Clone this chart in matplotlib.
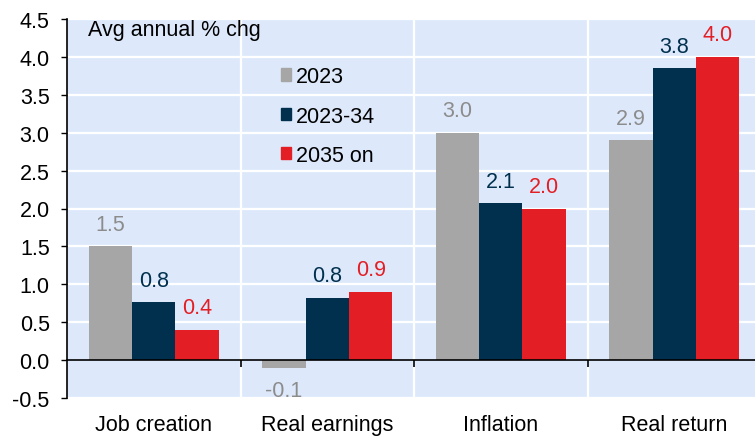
import matplotlib.pyplot as plt
import numpy as np
from matplotlib.patches import Patch

plt.rcParams['font.family'] = ['Liberation Sans', 'DejaVu Sans']

categories = ['Job creation', 'Real earnings', 'Inflation', 'Real return']
series_names = ['2023', '2023-34', '2035 on']
values_2023 = [1.5, -0.1, 3.0, 2.9]
values_2023_34 = [0.76, 0.82, 2.07, 3.85]
values_2035_on = [0.4, 0.9, 2.0, 4.0]
labels_2023 = ['1.5', '-0.1', '3.0', '2.9']
labels_2023_34 = ['0.8', '0.8', '2.1', '3.8']
labels_2035_on = ['0.4', '0.9', '2.0', '4.0']

bar_colors = ['#A6A6A6', '#00304E', '#E31E24']
text_colors = ['#8C8C8C', '#00304E', '#E31E24']
bg = '#DDE9FB'
fs = 15.5

fig = plt.figure(figsize=(7.55, 4.39), dpi=100)
ax = fig.add_axes([67 / 755, 40 / 439, 688 / 755, 379 / 439])
ax.set_facecolor(bg)

x = np.arange(len(categories))
w = 0.25
all_vals = [values_2023, values_2023_34, values_2035_on]
all_labels = [labels_2023, labels_2023_34, labels_2035_on]
for i, (vals, labs) in enumerate(zip(all_vals, all_labels)):
    pos = x + (i - 1) * w
    ax.bar(pos, vals, width=w, color=bar_colors[i], zorder=3)
    for p, v, t in zip(pos, vals, labs):
        off = 0.29 if v >= 0 else -0.3
        ax.text(p, v + off, t, ha='center', va='center', fontsize=fs,
                color=text_colors[i], zorder=4)

ax.set_ylim(-0.5, 4.5)
ax.set_xlim(-0.5, 3.465)
ax.set_yticks(np.arange(-0.5, 4.51, 0.5))
ax.set_yticklabels([f'{t:.1f}' for t in np.arange(-0.5, 4.51, 0.5)], fontsize=fs)
ax.tick_params(axis='y', direction='out', length=4.5, width=1, pad=8)

# group separators
for b in [0.5, 1.5, 2.5]:
    ax.axvline(b, color='white', lw=1.6, zorder=1)
for yv in np.arange(0.5, 4.51, 0.5):
    ax.axhline(yv, color='white', lw=1.6, zorder=1)
ax.axhline(-0.5, color='white', lw=1.6, zorder=1)

ax.spines['top'].set_visible(False)
ax.spines['right'].set_visible(False)
ax.spines['bottom'].set_position(('data', 0))
ax.spines['bottom'].set_zorder(5)
ax.spines['left'].set_linewidth(1.2)
ax.spines['bottom'].set_linewidth(1.2)
ax.set_xticks([0.5, 1.5, 2.5])
ax.set_xticklabels([])
ax.tick_params(axis='x', direction='out', length=5, width=1.2)

for xi, c in zip(x, categories):
    ax.text(xi, -0.07, c, transform=ax.get_xaxis_transform(), ha='center',
            va='center', fontsize=fs)

ax.text(21 / 688, 0.971, 'Avg annual % chg', transform=ax.transAxes,
        ha='left', va='center', fontsize=fs)

handles = [Patch(color=c) for c in bar_colors]
ax.legend(handles, series_names, loc='upper left', bbox_to_anchor=(205 / 688, 0.898),
          frameon=False, fontsize=fs, handlelength=0.5, handleheight=0.5,
          handletextpad=0.2, labelspacing=0.85, borderaxespad=0)

fig.savefig('out.png', dpi=100)
